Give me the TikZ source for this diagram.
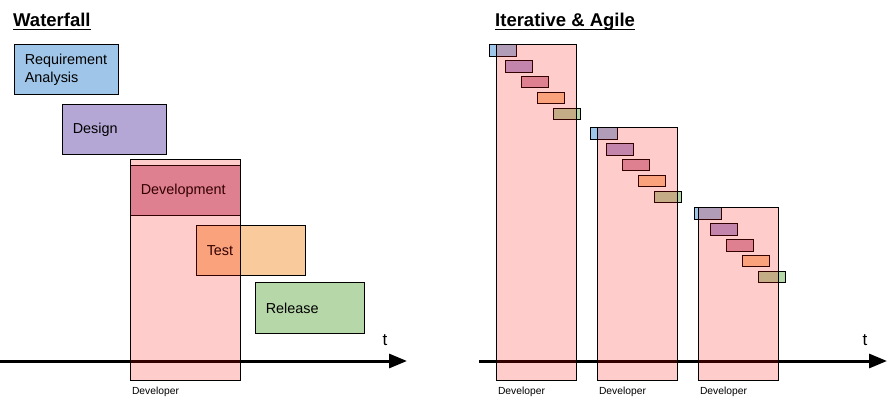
\documentclass[tikz,border=0pt]{standalone}
\usepackage{fontspec}
\setmainfont{Liberation Sans}
\usetikzlibrary{arrows.meta}
\definecolor{cblue}{HTML}{9FC5E8}
\definecolor{cpurple}{HTML}{B4A7D6}
\definecolor{cmagenta}{HTML}{D8A0B4}
\definecolor{corange}{HTML}{F9CB9C}
\definecolor{cgreen}{HTML}{B6D7A8}
\tikzset{
  phase/.style={draw=black, line width=0.9pt, anchor=north west, inner xsep=10pt, inner ysep=0pt,
    align=left, minimum height=50pt, font=\fontsize{14.4}{17.3}\selectfont},
  mini/.style={draw=black, line width=0.9pt, minimum width=27pt, minimum height=11.5pt,
    anchor=north west, inner sep=0pt},
  devbox/.style={draw=black, line width=0.9pt, fill=red, fill opacity=0.2, draw opacity=1,
    anchor=north west, inner sep=0pt},
  devlabel/.style={anchor=north west, inner sep=0pt, font=\fontsize{10.3}{12}\selectfont, yshift=-6pt, xshift=1.5pt},
  title/.style={anchor=base west, inner sep=0pt, font=\fontsize{18.5}{22}\selectfont\bfseries},
  axis/.style={line width=3pt, -{Triangle[length=18pt,width=14pt]}},
  tlabel/.style={inner sep=0pt, font=\fontsize{17}{20}\selectfont},
}
\begin{document}
\begin{tikzpicture}[x=1pt,y=-1pt]
\useasboundingbox (0,0) rectangle (888,406);
% titles
\node[title] (wt) at (13,26.7) {Waterfall};
\draw[line width=1.5pt] ([yshift=-2.6pt]wt.base west) -- ([yshift=-2.6pt]wt.base east);
\node[title] (it) at (495,26.7) {Iterative \& Agile};
\draw[line width=1.5pt] ([yshift=-2.6pt]it.base west) -- ([yshift=-2.6pt]it.base east);
% axes
\coordinate (a0) at (0,361);
\coordinate (a1) at (407,361);
\coordinate (b0) at (479,361);
\coordinate (b1) at (887,361);
\draw[axis] (a0) -- (a1);
\draw[axis] (b0) -- (b1);
\node[tlabel] (t1) at (385,340) {t};
\node[tlabel] (t2) at (865,340) {t};
% waterfall phases
\node[phase, fill=cblue, text width=84pt] (req) at (14.3,44.3) {Requirement\\Analysis};
\node[phase, fill=cpurple, text width=84pt] (des) at (62.3,104.3) {Design};
\node[phase, fill=cmagenta, text width=90pt] (dev) at (130.3,165.3) {Development};
\node[phase, fill=corange, text width=89pt] (tst) at (196.3,225.3) {Test};
\node[phase, fill=cgreen, text width=89pt, minimum height=51pt] (rel) at (255.3,282.3) {Release};
% iterative mini boxes
\foreach \s/\ox/\oy in {1/489.3/44.3, 2/590.3/127.3, 3/694.3/207.3}{
  \foreach \j/\c in {0/cblue, 1/cpurple, 2/cmagenta, 3/corange, 4/cgreen}{
    \node[mini, fill=\c] (m\s\j) at ({\ox+16*\j},{\oy+15.85*\j}) {};
  }
}
% developer overlays
\node[devbox, minimum width=110pt, minimum height=221pt] (d0) at (130.3,159.3) {};
\node[devlabel] (l0) at (d0.south west) {Developer};
\node[devbox, minimum width=80pt, minimum height=336pt] (d1) at (496.3,44.3) {};
\node[devlabel] (l1) at (d1.south west) {Developer};
\node[devbox, minimum width=80pt, minimum height=253pt] (d2) at (597.3,127.3) {};
\node[devlabel] (l2) at (d2.south west) {Developer};
\node[devbox, minimum width=80pt, minimum height=173pt] (d3) at (698.3,207.3) {};
\node[devlabel] (l3) at (d3.south west) {Developer};
\end{tikzpicture}
\end{document}
